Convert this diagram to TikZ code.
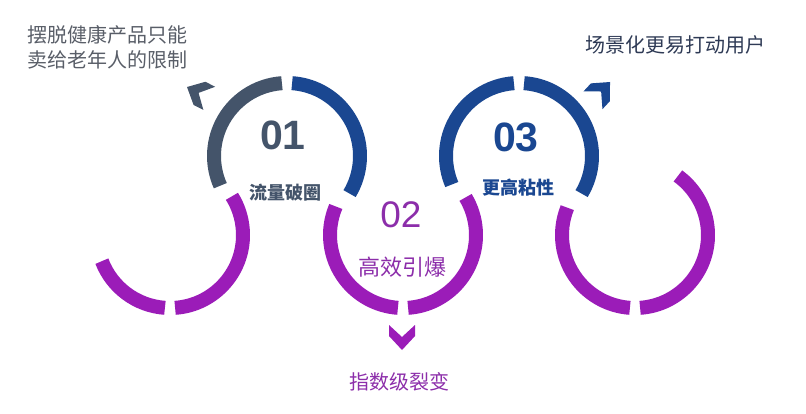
\documentclass[tikz,border=0pt]{standalone}
\usepackage{fontspec}
\setmainfont{Liberation Sans}
\newfontfamily\cjk{Noto Sans CJK SC}
\newfontfamily\digitfont{Liberation Sans}
\definecolor{cslate}{HTML}{44546A}
\definecolor{cnavy}{HTML}{1A4791}
\definecolor{cpurple}{HTML}{9B1CB8}
\definecolor{ctextgray}{HTML}{595E68}
\definecolor{ctextnavy}{HTML}{2E3A55}
\definecolor{ctextpurple}{HTML}{8C2EAA}
\begin{document}
\begin{tikzpicture}[x=1pt,y=1pt,
  ring/.style={line width=14pt, line cap=butt},
  cjktext/.style={inner sep=0pt, font=\cjk\fontsize{20}{24}\selectfont},
  labeltext/.style={inner sep=0pt, font=\cjk\bfseries\fontsize{18}{22}\selectfont},
  numtext/.style={inner sep=0pt, font=\digitfont\bfseries\fontsize{41}{46}\selectfont},
  chevron/.pic={\fill[pic actions] (0,0) -- (-14,-13) -- (-25,-13) -- (-13,0) -- (-25,13) -- (-14,13) -- cycle;}
]
\useasboundingbox (0,0) rectangle (806,413);
% circle centres
\coordinate (A) at (170,178);
\coordinate (B) at (287,257);
\coordinate (C) at (403,178);
\coordinate (D) at (519,257);
\coordinate (E) at (635,178);
\def\R{73}
% circle A
\draw[ring, cpurple] (A) ++(201:\R) arc[start angle=201, end angle=266, radius=\R];
\draw[ring, cpurple] (A) ++(-86:\R) arc[start angle=-86, end angle=32, radius=\R];
% circle B
\draw[ring, cslate] (B) ++(94:\R) arc[start angle=94, end angle=204, radius=\R];
\draw[ring, cnavy] (B) ++(86:\R) arc[start angle=86, end angle=-31, radius=\R];
% circle C
\draw[ring, cpurple] (C) ++(157:\R) arc[start angle=157, end angle=266, radius=\R];
\draw[ring, cpurple] (C) ++(-86:\R) arc[start angle=-86, end angle=31, radius=\R];
% circle D
\draw[ring, cnavy] (D) ++(94:\R) arc[start angle=94, end angle=203, radius=\R];
\draw[ring, cnavy] (D) ++(86:\R) arc[start angle=86, end angle=-31, radius=\R];
% circle E
\draw[ring, cpurple] (E) ++(158:\R) arc[start angle=158, end angle=266, radius=\R];
\draw[ring, cpurple] (E) ++(-86:\R) arc[start angle=-86, end angle=54, radius=\R];
% arrow heads
\pic[fill=cslate, rotate=153] (arrowB) at (187,326) {chevron};
\pic[fill=cnavy, rotate=47] (arrowD) at (610,331) {chevron};
\pic[fill=cpurple, rotate=-90] (arrowC) at (402,63) {chevron};
% texts
\node[cjktext, text=ctextgray, anchor=west] (t1a) at (27,378) {摆脱健康产品只能};
\node[cjktext, text=ctextgray, anchor=west] (t1b) at (27,353) {卖给老年人的限制};
\node[cjktext, text=ctextnavy, anchor=west] (t3) at (585,368) {场景化更易打动用户};
\node[cjktext, text=ctextpurple] (t2) at (399,31) {指数级裂变};
\node[numtext, text=cslate] (n1) at (283,278) {01};
\node[labeltext, text=cslate] (l1) at (285,220) {流量破圈};
\node[inner sep=0pt, font=\digitfont\fontsize{37}{42}\selectfont, text=ctextpurple] (n2) at (401,198) {02};
\node[inner sep=0pt, font=\cjk\fontsize{22}{26}\selectfont, text=ctextpurple] (l2) at (402,146) {高效引爆};
\node[numtext, text=cnavy] (n3) at (516,276) {03};
\node[labeltext, text=cnavy] (l3) at (518,225) {更高粘性};
\end{tikzpicture}
\end{document}
